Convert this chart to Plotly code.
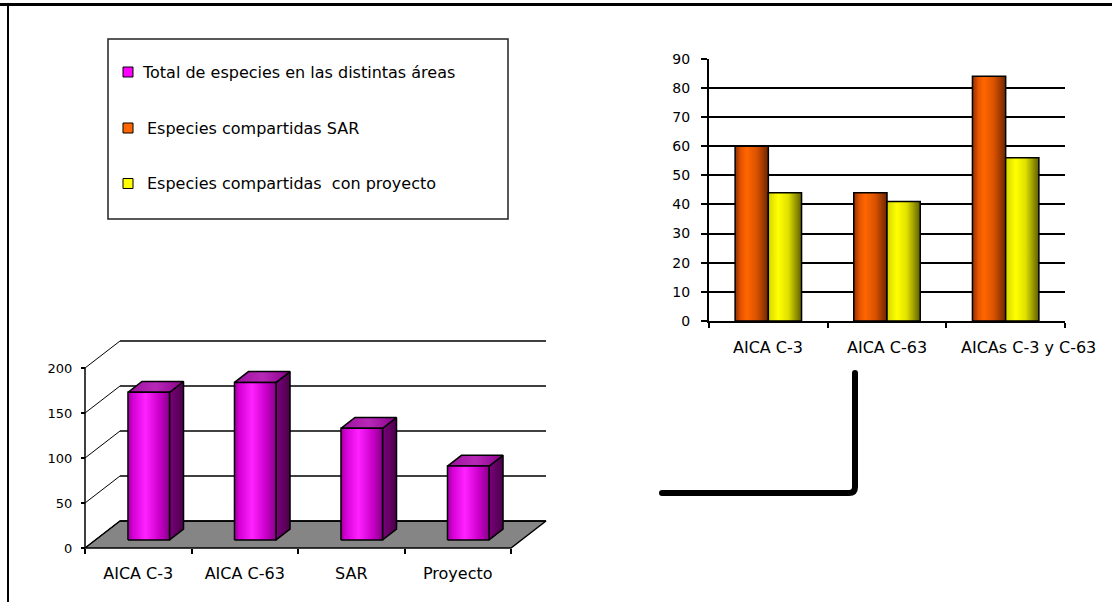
import plotly.graph_objects as go

W, H = 1112, 602

# ---------------- data ----------------
areas = ["AICA C-3", "AICA C-63", "SAR", "Proyecto"]
total_especies = [164, 175, 124, 82]

zonas = ["AICA C-3", "AICA C-63", "AICAs C-3 y C-63"]
compartidas_sar = [60, 44, 84]
compartidas_proyecto = [44, 41, 56]

left_ticks = [0, 50, 100, 150, 200]
right_ticks = [0, 10, 20, 30, 40, 50, 60, 70, 80, 90]

series_names = [
    "Total de especies en las distintas áreas",
    "Especies compartidas SAR",
    "Especies compartidas  con proyecto",
]

# ---------------- styling ----------------
FONT = "DejaVu Sans, Verdana, sans-serif"
MAGENTA, ORANGE, YELLOW = "#ff00ff", "#ff6600", "#ffff00"

magenta_front = [[0, "#9a009a"], [0.12, "#d400d4"], [0.42, "#ff22ff"], [0.75, "#cc00cc"], [1, "#880088"]]
magenta_side = [[0, "#7c007c"], [1, "#4a004a"]]
magenta_top = [[0, "#9c109c"], [0.5, "#b828b8"], [1, "#8a008a"]]
orange_front = [[0, "#8f2f00"], [0.18, "#e65500"], [0.35, "#ff6600"], [0.65, "#d95200"], [1, "#6e2600"]]
yellow_front = [[0, "#d6d600"], [0.3, "#ffff00"], [0.6, "#e0e000"], [1, "#5e5e00"]]


def px(x):
    return x / W


def py(y):
    return 1 - y / H


def face(xs, ys, xa, ya, colorscale=None, fillcolor=None, lw=1.5):
    tr = dict(
        x=list(xs) + [xs[0]], y=list(ys) + [ys[0]],
        mode="lines", fill="toself",
        line=dict(color="black", width=lw),
        xaxis=xa, yaxis=ya, hoverinfo="skip", showlegend=False,
    )
    if colorscale is not None:
        tr["fillgradient"] = dict(type="horizontal", colorscale=colorscale,
                                  start=min(xs), stop=max(xs))
    else:
        tr["fillcolor"] = fillcolor
    return go.Scatter(**tr)


def seg(xs, ys, xa, ya, width=1.5):
    return go.Scatter(x=xs, y=ys, mode="lines", line=dict(color="black", width=width),
                      xaxis=xa, yaxis=ya, hoverinfo="skip", showlegend=False)


fig = go.Figure()

# ================= left chart: 3-D column chart =================
CAT_PX = 106.5          # pixels per category
VAL_PX = 0.9            # pixels per value unit
DEPTH_X = 35 / CAT_PX   # oblique depth offset in category units
DEPTH_Y = 27 / VAL_PX   # oblique depth offset in value units
n_left = len(areas)
x_lo, x_hi = -0.5, n_left - 0.5
bar_w = 0.39
d_front, d_back = 0.3, 0.7


def proj(x, v, d):
    return x + d * DEPTH_X, v + d * DEPTH_Y


# floor
fx, fy = zip(*[proj(x_lo, 0, 0), proj(x_hi, 0, 0), proj(x_hi, 0, 1), proj(x_lo, 0, 1)])
fig.add_trace(face(fx, fy, "x2", "y2", fillcolor="#858585"))

# back-wall gridlines and side-wall diagonals
for v in left_ticks:
    a, b = proj(x_lo, v, 1), proj(x_hi, v, 1)
    fig.add_trace(seg([a[0], b[0]], [a[1], b[1]], "x2", "y2"))
    c = proj(x_lo, v, 0)
    fig.add_trace(seg([c[0], a[0]], [c[1], a[1]], "x2", "y2", width=1))

# front value axis
fig.add_trace(seg([x_lo, x_lo], [0, max(left_ticks)], "x2", "y2"))

# columns
for i, v in enumerate(total_especies):
    x0, x1 = i - bar_w / 2, i + bar_w / 2
    # side face
    sx, sy = zip(*[proj(x1, 0, d_front), proj(x1, 0, d_back), proj(x1, v, d_back), proj(x1, v, d_front)])
    fig.add_trace(face(sx, sy, "x2", "y2", magenta_side))
    # top face
    tx, ty = zip(*[proj(x0, v, d_front), proj(x1, v, d_front), proj(x1, v, d_back), proj(x0, v, d_back)])
    fig.add_trace(face(tx, ty, "x2", "y2", magenta_top))
    # front face
    qx, qy = zip(*[proj(x0, 0, d_front), proj(x1, 0, d_front), proj(x1, v, d_front), proj(x0, v, d_front)])
    fig.add_trace(face(qx, qy, "x2", "y2", magenta_front))

# ================= right chart: clustered columns =================
bw = 0.28
for i, (a, b) in enumerate(zip(compartidas_sar, compartidas_proyecto)):
    fig.add_trace(face([i - bw, i, i, i - bw], [0, 0, a, a], "x", "y", orange_front))
    fig.add_trace(face([i, i + bw, i + bw, i], [0, 0, b, b], "x", "y", yellow_front))

# ---------------- axes ----------------
LX0 = 85                      # pixel of front value axis (left chart)
LY0 = 548                     # pixel of value 0 on the front plane
lx_range = [-0.56, 3.85]
ly_range = [-6, 232]
l_dom_x = [px(LX0 + (lx_range[0] - x_lo) * CAT_PX), px(LX0 + (lx_range[1] - x_lo) * CAT_PX)]
l_dom_y = [py(LY0 - ly_range[0] * VAL_PX), py(LY0 - ly_range[1] * VAL_PX)]

axis_font = dict(family=FONT, size=16, color="black")

fig.update_layout(
    width=W, height=H, autosize=False,
    margin=dict(l=0, r=0, t=0, b=0, pad=0, autoexpand=False),
    paper_bgcolor="white", plot_bgcolor="rgba(0,0,0,0)",
    showlegend=False,
    font=dict(family=FONT, color="black"),
    xaxis=dict(
        domain=[px(709), px(1065)], range=[-0.5, 2.5], anchor="y",
        tickmode="array", tickvals=list(range(len(zonas))), showticklabels=False,
        ticks="", showgrid=False, zeroline=False, automargin=False,
        showline=True, linecolor="black", linewidth=2,
        minor=dict(tickmode="array", tickvals=[k - 0.5 for k in range(len(zonas) + 1)],
                   ticks="outside", ticklen=5, tickwidth=2, tickcolor="black", showgrid=False),
        fixedrange=True,
    ),
    yaxis=dict(
        domain=[py(321), py(58.7)], range=[0, 90], anchor="x",
        tickmode="array", tickvals=right_ticks,
        ticks="outside", ticklen=6, tickwidth=2, tickcolor="black",
        showgrid=True, gridcolor="black", gridwidth=2, zeroline=False, automargin=False,
        showline=True, linecolor="black", linewidth=2,
        tickfont=dict(family=FONT, size=14, color="black"), ticklabelstandoff=8,
        fixedrange=True,
    ),
    xaxis2=dict(
        domain=l_dom_x, range=lx_range, anchor="free", position=py(LY0),
        tickmode="array", tickvals=list(range(n_left)), ticktext=areas,
        ticks="", tickangle=0, showgrid=False, zeroline=False, showline=False, automargin=False,
        minor=dict(tickmode="array", tickvals=[k - 0.5 for k in range(n_left + 1)],
                   ticks="outside", ticklen=5, tickwidth=1.5, tickcolor="black", showgrid=False),
        tickfont=axis_font, ticklabelstandoff=14, fixedrange=True,
    ),
    yaxis2=dict(
        domain=l_dom_y, range=ly_range, anchor="free", position=px(LX0),
        tickmode="array", tickvals=left_ticks,
        ticks="outside", ticklen=4, tickwidth=1.5, tickcolor="black",
        showgrid=False, zeroline=False, showline=False, automargin=False,
        tickfont=dict(family=FONT, size=13, color="black"), ticklabelstandoff=6,
        fixedrange=True,
    ),
)

annotations = []

# category labels of the right chart (the long last one sits a little to the right)
label_shift = [0, 0, 23]
for i, (name, dx) in enumerate(zip(zonas, label_shift)):
    annotations.append(dict(xref="x", yref="y", x=i, y=0, text=name, showarrow=False,
                            xanchor="center", yanchor="middle", xshift=dx, yshift=-26,
                            font=axis_font))

# ---------------- legend box ----------------
shapes = [
    dict(type="rect", xref="paper", yref="paper", x0=px(108), x1=px(508), y0=py(219), y1=py(39),
         line=dict(color="#222222", width=1.5), fillcolor="white", layer="below"),
]
legend_y = [72, 128, 183.5]
for yy, col in zip(legend_y, [MAGENTA, ORANGE, YELLOW]):
    shapes.append(dict(type="rect", xref="paper", yref="paper",
                       x0=px(123), x1=px(133), y0=py(yy + 5), y1=py(yy - 5),
                       line=dict(color="black", width=1), fillcolor=col))
for yy, name, xx in zip(legend_y, series_names, [140, 145, 145]):
    annotations.append(dict(xref="paper", yref="paper", x=px(xx), y=py(yy),
                            text=name, showarrow=False, xanchor="left", yanchor="middle",
                            font=dict(family=FONT, size=16, color="black")))

# ---------------- page frame and connector ----------------
shapes += [
    dict(type="line", xref="paper", yref="paper", x0=0, x1=1, y0=py(4.5), y1=py(4.5),
         line=dict(color="black", width=3)),
    dict(type="line", xref="paper", yref="paper", x0=px(8), x1=px(8), y0=py(3), y1=0,
         line=dict(color="black", width=2)),
]
path = "M {} {} L {} {} Q {} {} {} {} L {} {}".format(
    px(855), py(373), px(855), py(487), px(855), py(493), px(849), py(493), px(662), py(493))
shapes.append(dict(type="path", xref="paper", yref="paper", path=path,
                   line=dict(color="black", width=6)))
for cx, cy in [(855, 373), (662, 493)]:
    shapes.append(dict(type="circle", xref="paper", yref="paper",
                       x0=px(cx - 3), x1=px(cx + 3), y0=py(cy + 3), y1=py(cy - 3),
                       line=dict(width=0), fillcolor="black"))

fig.update_layout(shapes=shapes, annotations=annotations)

fig.write_html("out.html")
